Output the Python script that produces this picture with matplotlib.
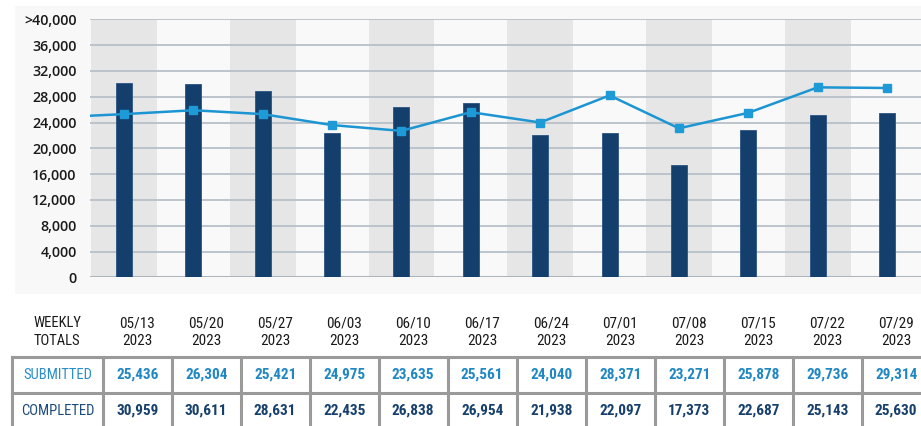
import matplotlib
matplotlib.use("Agg")
import matplotlib.pyplot as plt
from matplotlib.patches import Rectangle
from matplotlib.lines import Line2D

# ---------------- data ----------------
weeks = ["05/13", "05/20", "05/27", "06/03", "06/10", "06/17",
         "06/24", "07/01", "07/08", "07/15", "07/22", "07/29"]
year = "2023"
# values as drawn in the chart
completed_plot = [30170, 29900, 28900, 22400, 26450, 26980,
                  22000, 22300, 17400, 22800, 25200, 25500]
submitted_plot = [25300, 25900, 25300, 23600, 22700, 25600,
                  24000, 28200, 23100, 25500, 29450, 29350]
submitted_lead_in = 25050   # line enters from the left edge
# values printed in the table
submitted_table = ["25,436", "26,304", "25,421", "24,975", "23,635", "25,561",
                   "24,040", "28,371", "23,271", "25,878", "29,736", "29,314"]
completed_table = ["30,959", "30,611", "28,631", "22,435", "26,838", "26,954",
                   "21,938", "22,097", "17,373", "22,687", "25,143", "25,630"]
yticks = [0, 4000, 8000, 12000, 16000, 20000, 24000, 28000, 32000, 36000, 40000]
ytick_labels = ["0", "4,000", "8,000", "12,000", "16,000", "20,000", "24,000",
                "28,000", "32,000", "36,000", ">40,000"]

# ---------------- style ----------------
W, H = 921, 426
NAVY = "#143f6d"
BLUE = "#1c95d2"
GRID = "#b9c0c8"
BAND = "#e6e6e6"
LIGHT = "#f9f9f9"
narrow = ["Roboto Condensed", "Roboto", "DejaVu Sans"]
tickfont = ["Open Sans", "DejaVu Sans"]

fig = plt.figure(figsize=(W / 100, H / 100), dpi=100)
fig.patch.set_facecolor("white")

def fx(px):
    return px / W

def fy(py):
    return 1 - py / H

# light panel behind the chart
panel = Rectangle((fx(15), fy(294)), fx(921 - 15), (294 - 6) / H,
                  transform=fig.transFigure, facecolor="#f8f8f8",
                  edgecolor="none", zorder=-5)
fig.patches.append(panel)

ax_left, ax_right, ax_top, ax_bot = 90, 921, 19.3, 277.3
ax = fig.add_axes([fx(ax_left), fy(ax_bot), fx(ax_right - ax_left), (ax_bot - ax_top) / H])
ax.set_zorder(2)
ax.set_facecolor(LIGHT)
n = len(weeks)
x = list(range(n))
ax.set_xlim(-0.49, 11.49)
ax.set_ylim(0, 40000)

for i in range(0, n, 2):
    ax.axvspan(i - 0.475, i + 0.475, color=BAND, zorder=0, lw=0)

for v in yticks:
    if v == 0:
        ax.axhline(v, color="#aeb5bd", lw=2.2, zorder=1)
    else:
        ax.axhline(v, color=GRID, lw=1.3, zorder=1)

ax.bar(x, completed_plot, width=0.23, color=NAVY, edgecolor="#2a5482",
       linewidth=0.6, zorder=3)

ax.plot([-0.49] + x, [submitted_lead_in] + submitted_plot, color=BLUE, lw=1.8,
        zorder=4, solid_capstyle="butt")
ax.plot(x, submitted_plot, linestyle="none", marker="s", markersize=6,
        color="#1e9ad6", markeredgecolor="#1e9ad6", zorder=5)

ax.set_yticks(yticks)
ax.set_yticklabels(ytick_labels, fontfamily=tickfont, fontweight="semibold",
                   fontsize=10.3, color="#1a1a1a")
ax.set_xticks([])
ax.tick_params(axis="y", length=0, pad=9.5)
for s in ax.spines.values():
    s.set_visible(False)

# ---------------- table ----------------
tbl_left = 12
first_w = 90.7
col_w = 69
top_y = 356.7
row_h = 36
hdr1_y, hdr2_y = 323, 341
lc = "#9a9a9a"
lw_t = 2.2
fs = 10.5

fig.text(fx(tbl_left + first_w / 2), fy(hdr1_y), "WEEKLY", ha="center", va="center",
         fontfamily=narrow, fontsize=fs, color="#1a1a1a")
fig.text(fx(tbl_left + first_w / 2), fy(hdr2_y), "TOTALS", ha="center", va="center",
         fontfamily=narrow, fontsize=fs, color="#1a1a1a")
fig.text(fx(tbl_left + first_w / 2), fy(top_y + row_h / 2), "SUBMITTED", ha="center",
         va="center", fontfamily=narrow, fontsize=fs, color="#2a8ec8")
fig.text(fx(tbl_left + first_w / 2), fy(top_y + 1.5 * row_h), "COMPLETED", ha="center",
         va="center", fontfamily=narrow, fontsize=fs, color="#1c4b7c")

for i in range(n):
    cx = tbl_left + first_w + col_w * (i + 0.5)
    fig.text(fx(cx), fy(hdr1_y), weeks[i], ha="center", va="center",
             fontfamily=narrow, fontsize=fs + 0.5, color="#1a1a1a")
    fig.text(fx(cx), fy(hdr2_y), year, ha="center", va="center",
             fontfamily=narrow, fontsize=fs + 0.5, color="#1a1a1a")
    fig.text(fx(cx), fy(top_y + row_h / 2), submitted_table[i], ha="center",
             va="center", fontfamily=narrow, fontsize=fs + 0.5, fontweight="bold",
             color="#1f87c3")
    fig.text(fx(cx), fy(top_y + 1.5 * row_h), completed_table[i], ha="center",
             va="center", fontfamily=narrow, fontsize=fs + 0.5, fontweight="bold",
             color="#163f6c")

# horizontal table lines
for yy in [top_y, top_y + row_h]:
    fig.add_artist(Line2D([fx(tbl_left), 1], [fy(yy), fy(yy)], color=lc, lw=lw_t,
                          transform=fig.transFigure))
# vertical table lines
vx = [tbl_left, tbl_left + first_w] + [tbl_left + first_w + col_w * (i + 1) for i in range(n - 1)]
for xx in vx:
    fig.add_artist(Line2D([fx(xx), fx(xx)], [fy(top_y), 0], color=lc, lw=lw_t,
                          transform=fig.transFigure))

fig.savefig("out.png", dpi=100)
